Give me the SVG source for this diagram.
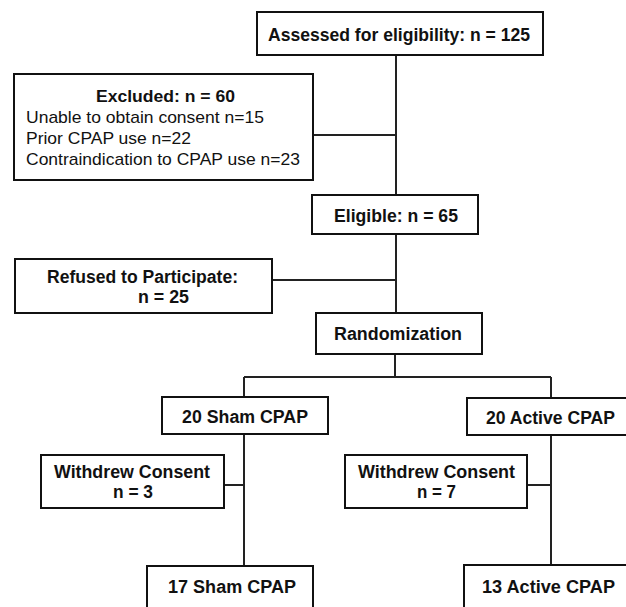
<svg xmlns="http://www.w3.org/2000/svg" width="626" height="607" viewBox="0 0 626 607">
<style>
.box{fill:#fff;stroke:#111;stroke-width:2}
.ln{fill:none;stroke:#222;stroke-width:2}
.b{font-family:"Liberation Sans",Arial,sans-serif;font-weight:bold;font-size:18px;fill:#111}
.r{font-family:"Liberation Sans",Arial,sans-serif;font-size:17px;fill:#111}
</style>
<rect width="626" height="607" fill="#fff"/>
<g id="connectors">
<path class="ln" d="M396,55V195M313,135H396"/>
<path class="ln" d="M396,234V313M272,280H396"/>
<path class="ln" d="M395,354V377M244,377H551M244,377V397M551,377V398"/>
<path class="ln" d="M244,434V566M224,485H244"/>
<path class="ln" d="M551,435V565M527,485H551"/>
</g>
<g id="assessed"><rect class="box" x="257" y="12" width="286" height="43"/><text class="b" x="268" y="41" textLength="262" lengthAdjust="spacingAndGlyphs">Assessed for eligibility: n = 125</text></g>
<g id="excluded"><rect class="box" x="14" y="74" width="299" height="106"/>
<text class="b" x="96" y="102" textLength="139" lengthAdjust="spacingAndGlyphs" style="font-size:17px">Excluded: n = 60</text>
<text class="r" x="26" y="123" textLength="238" lengthAdjust="spacingAndGlyphs">Unable to obtain consent n=15</text>
<text class="r" x="26" y="144" textLength="165" lengthAdjust="spacingAndGlyphs">Prior CPAP use n=22</text>
<text class="r" x="26" y="165" textLength="274" lengthAdjust="spacingAndGlyphs">Contraindication to CPAP use n=23</text></g>
<g id="eligible"><rect class="box" x="312" y="195" width="166" height="39"/><text class="b" x="334" y="222" textLength="124" lengthAdjust="spacingAndGlyphs">Eligible: n = 65</text></g>
<g id="refused"><rect class="box" x="15" y="259" width="257" height="54"/>
<text class="b" x="47" y="283" textLength="191" lengthAdjust="spacingAndGlyphs">Refused to Participate:</text>
<text class="b" x="138" y="303" textLength="51" lengthAdjust="spacingAndGlyphs">n = 25</text></g>
<g id="randomization"><rect class="box" x="316" y="313" width="166" height="41"/><text class="b" x="334" y="340" textLength="128" lengthAdjust="spacingAndGlyphs">Randomization</text></g>
<g id="sham20"><rect class="box" x="162" y="397" width="166" height="37"/><text class="b" x="182" y="423" textLength="126" lengthAdjust="spacingAndGlyphs">20 Sham CPAP</text></g>
<g id="active20"><rect class="box" x="467" y="398" width="170" height="37"/><text class="b" x="486" y="424" textLength="129" lengthAdjust="spacingAndGlyphs">20 Active CPAP</text></g>
<g id="withdrew-sham"><rect class="box" x="41" y="455" width="183" height="53"/>
<text class="b" x="54" y="478" textLength="156" lengthAdjust="spacingAndGlyphs">Withdrew Consent</text>
<text class="b" x="113" y="498" textLength="40" lengthAdjust="spacingAndGlyphs">n = 3</text></g>
<g id="withdrew-active"><rect class="box" x="345" y="455" width="182" height="53"/>
<text class="b" x="358" y="478" textLength="157" lengthAdjust="spacingAndGlyphs">Withdrew Consent</text>
<text class="b" x="417" y="498" textLength="39" lengthAdjust="spacingAndGlyphs">n = 7</text></g>
<g id="sham17"><rect class="box" x="147" y="566" width="166" height="50"/><text class="b" x="168" y="593" textLength="128" lengthAdjust="spacingAndGlyphs">17 Sham CPAP</text></g>
<g id="active13"><rect class="box" x="464" y="565" width="175" height="50"/><text class="b" x="482" y="593" textLength="133" lengthAdjust="spacingAndGlyphs">13 Active CPAP</text></g>
</svg>
